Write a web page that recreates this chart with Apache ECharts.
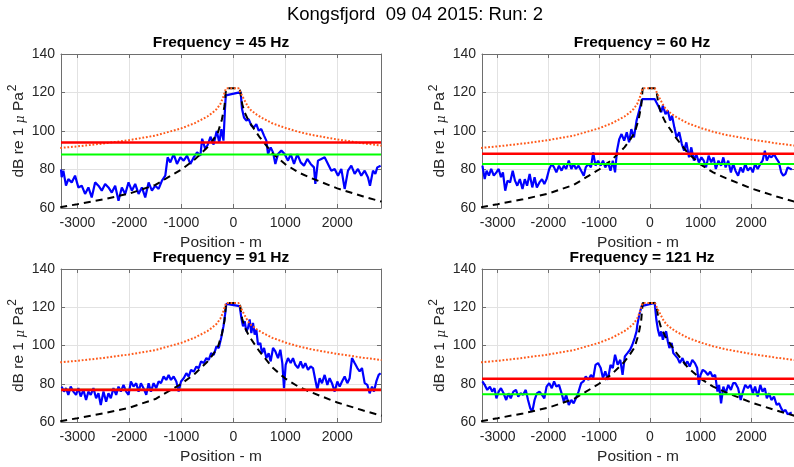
<!DOCTYPE html>
<html>
<head>
<meta charset="utf-8">
<script src="https://cdn.jsdelivr.net/npm/echarts@6/dist/echarts.min.js"></script>
<style>
  html, body { margin: 0; padding: 0; background: #fff; }
  #chart { width: 794px; height: 467px; }
</style>
</head>
<body>
<div id="chart"></div>
<script>
// frequencies of the four panels
const freqs = [45, 60, 91, 121];
const xRanges = [[-3315, 2840], [-3310, 2845], [-3315, 2840], [-3310, 2845]];
const yTicks = [60, 140, 20];

// horizontal reference levels (dB)
const redLevels = [94, 88.2, 76.8, 82.6];
const greenLevels = [87.8, 82.9, 76.8, 74.5];

// model curves (same for every panel)
const orangeModel = [[-3330,91.2],[-3000,92],[-2500,93.5],[-2000,95.3],[-1500,97.6],[-1000,101.4],[-750,104],[-500,107.5],[-400,109.5],[-320,111.4],[-250,114],[-200,117.2],[-165,120.3],[-140,122.2],[100,122.2],[130,121.4],[167,118.4],[218,115.8],[282,112.6],[346,110.6],[450,108.5],[538,107],[750,104],[1000,101.6],[1250,99.6],[1500,98],[2000,95.6],[2500,93.6],[2850,92.4]];
const blackModel = [[-3330,60.4],[-3000,62],[-2500,64.5],[-2000,67.5],[-1500,72],[-1250,76],[-1000,80],[-750,85],[-500,91.5],[-400,95],[-300,99],[-220,106],[-170,113],[-140,122.2],[100,122.2],[130,121],[170,114],[220,109.5],[300,105],[400,101],[500,97],[750,88.5],[1000,82.7],[1250,78.5],[1500,75.5],[2000,70.2],[2500,66],[2850,63.3]];

// measured levels along the track
const blue45 = [[-3315,80],[-3302,76],[-3270,79.4],[-3219,71.6],[-3174,75],[-3109,73.3],[-3045,76.8],[-2981,70.7],[-2916,71.6],[-2852,67.3],[-2788,70.7],[-2724,65.5],[-2659,73.3],[-2595,71.6],[-2531,69],[-2466,72.5],[-2402,70.7],[-2338,68],[-2273,71.6],[-2209,63.8],[-2145,70.7],[-2080,67.3],[-2016,73.3],[-1952,69],[-1888,72.5],[-1823,67.3],[-1759,70.7],[-1695,65.5],[-1630,73.3],[-1566,69],[-1502,71.6],[-1437,69.9],[-1373,74.2],[-1309,76.8],[-1264,86.3],[-1212,83.7],[-1148,88],[-1084,82.9],[-1020,86.3],[-955,84.6],[-891,87.2],[-827,82.9],[-762,86.3],[-698,88.9],[-634,87.2],[-600,96],[-540,90.6],[-490,93],[-440,97],[-380,93],[-320,100],[-270,94],[-230,101],[-190,95],[-160,112],[-145,118.5],[141,120.2],[167,111.4],[205,107],[250,105.4],[295,106.2],[346,102.8],[397,101.9],[442,103.6],[487,100.2],[538,101],[590,97.6],[635,95],[667,88],[718,91.5],[763,88.9],[808,82.9],[859,88],[923,89.8],[987,88],[1051,84.6],[1103,88],[1167,82.9],[1231,88],[1295,83.7],[1359,82],[1423,85.5],[1487,82.9],[1551,81.1],[1577,72.5],[1628,84.6],[1692,85.5],[1756,86.3],[1820,82.9],[1885,79.4],[1949,80.3],[2013,76.8],[2077,80.3],[2141,69.9],[2205,79.4],[2269,82],[2333,77.7],[2397,80.3],[2461,76.8],[2526,79.4],[2590,75.9],[2628,71.6],[2686,79.4],[2731,77.7],[2769,81.1],[2833,82]];
const blue60 = [[-3302,82],[-3257,75],[-3219,79.4],[-3174,76.8],[-3129,80.3],[-3077,76.8],[-3026,78.5],[-2981,80.3],[-2936,76],[-2897,78.5],[-2852,69],[-2807,74.2],[-2756,73.3],[-2704,79.4],[-2659,74.2],[-2614,71.6],[-2563,75],[-2511,69.9],[-2466,75],[-2421,71.6],[-2370,77.7],[-2318,70.7],[-2273,76],[-2228,70.7],[-2177,73.3],[-2126,75],[-2080,72.5],[-2036,75],[-1984,80.3],[-1933,82.9],[-1888,81.1],[-1843,78.5],[-1791,82],[-1740,79.4],[-1695,82],[-1650,80.3],[-1598,84.6],[-1547,80.3],[-1502,82.9],[-1457,80.3],[-1405,82],[-1354,79.4],[-1302,76.8],[-1264,81.1],[-1212,82.9],[-1161,81.1],[-1116,88.9],[-1071,82],[-1020,84.6],[-968,82],[-923,84.6],[-878,81.1],[-827,83.7],[-775,79.4],[-730,84.6],[-685,78.5],[-647,89.8],[-602,95.8],[-557,98.4],[-505,95],[-454,99.3],[-409,94.1],[-364,101],[-312,96.7],[-261,105.4],[-205,111],[-148,116.6],[97,116.6],[129,114.9],[181,112.3],[226,109.7],[258,113.2],[310,108.8],[355,110.6],[400,105.4],[439,108],[484,101.9],[529,96.7],[581,99.3],[632,93.2],[677,89.8],[722,94.1],[774,86.3],[819,91.5],[871,84.6],[916,88],[968,83.7],[1019,86.3],[1064,84.6],[1109,81.1],[1161,87.2],[1213,83.7],[1258,86.3],[1303,80.3],[1355,84.6],[1406,82],[1451,86.3],[1496,81.1],[1548,84.6],[1600,78.5],[1645,82.9],[1690,79.4],[1742,76.8],[1793,81.1],[1838,78.5],[1883,82.9],[1935,79.4],[1987,81.1],[2032,78.5],[2077,82.9],[2129,80.3],[2180,82.9],[2225,84.6],[2270,89.8],[2309,84.6],[2354,87.2],[2399,86.3],[2451,88],[2503,85.5],[2548,83.7],[2593,78.5],[2632,76.8],[2677,77.7],[2720,81.1],[2800,80]];
const blue91 = [[-3302,78.5],[-3257,75.9],[-3219,77.7],[-3174,74.2],[-3129,78.5],[-3077,75.9],[-3026,74.2],[-2981,77.7],[-2936,73.3],[-2884,76.8],[-2833,71.5],[-2788,75.9],[-2743,74.2],[-2691,77.7],[-2640,72.4],[-2595,75],[-2550,68.9],[-2498,75.9],[-2447,70.6],[-2402,75],[-2357,72.4],[-2306,77.7],[-2254,74.2],[-2209,78.5],[-2164,75.9],[-2113,79.4],[-2061,75.9],[-2016,74.2],[-1971,81.2],[-1920,78.5],[-1868,80.3],[-1823,75.9],[-1778,80.3],[-1727,77.7],[-1675,74.2],[-1630,80.3],[-1585,75.9],[-1534,80.3],[-1483,77.7],[-1437,81.2],[-1392,80.3],[-1341,83.8],[-1290,82],[-1245,84.6],[-1200,82],[-1148,83.8],[-1097,81.2],[-1052,75.9],[-1007,81.2],[-955,82.9],[-904,85.5],[-859,83.8],[-814,87.3],[-762,86.3],[-711,89],[-666,88.1],[-621,91.7],[-569,90.8],[-518,93.4],[-473,92.5],[-428,96],[-377,95.1],[-325,99.5],[-280,98.7],[-235,103.9],[-190,110],[-160,116],[-135,121.8],[122,120.6],[154,114.4],[186,110],[218,112.7],[250,107.4],[282,109.2],[314,113.6],[346,106.5],[378,111.8],[410,105.7],[442,108.3],[474,100.4],[519,101.3],[551,96],[590,98.7],[635,93.4],[679,96],[718,91.7],[763,98.7],[808,96.9],[859,93.4],[904,97.8],[942,90.8],[974,77.7],[1006,89.9],[1051,93.4],[1103,90.8],[1147,93.4],[1192,89.9],[1244,88.2],[1295,91.7],[1340,88.2],[1385,90.8],[1436,87.3],[1487,89],[1532,88.2],[1577,82],[1615,76.8],[1660,82.9],[1705,80.3],[1756,84.6],[1808,79.4],[1852,82.9],[1897,80.3],[1949,75.9],[2000,81.2],[2045,78.5],[2090,81.2],[2141,83.8],[2192,80.3],[2237,82.9],[2282,93.4],[2333,90.8],[2385,88.2],[2429,86.5],[2474,88.2],[2526,80.3],[2577,79.4],[2622,75],[2667,78.5],[2705,75.9],[2750,81.2],[2795,84.6],[2833,85.5]];
const blue121 = [[-3302,81.2],[-3257,79.4],[-3206,76.8],[-3154,78.5],[-3109,75.9],[-3064,77.7],[-3026,72.4],[-2981,75.9],[-2936,77.7],[-2884,75],[-2833,71.5],[-2788,75],[-2743,72.4],[-2691,75.9],[-2640,76.8],[-2595,73.3],[-2550,75],[-2498,74.2],[-2447,76.8],[-2402,71.5],[-2357,67.1],[-2318,65.4],[-2273,71.5],[-2228,75],[-2177,75.9],[-2126,74.2],[-2080,72.4],[-2036,78.5],[-1984,80.3],[-1933,77.7],[-1888,81.2],[-1843,78.5],[-1791,79.4],[-1740,75],[-1695,70.6],[-1650,74.2],[-1598,68.9],[-1547,71.5],[-1502,69.8],[-1457,72.4],[-1405,75.9],[-1354,80.3],[-1309,81.2],[-1264,83.8],[-1212,82],[-1161,84.6],[-1116,82.9],[-1071,89.9],[-1020,90.8],[-968,88.2],[-923,82.9],[-878,86.5],[-827,82],[-775,89.9],[-730,88.2],[-685,95.2],[-634,89.9],[-582,92.5],[-537,84.6],[-492,94.3],[-441,96],[-389,97.8],[-344,100.4],[-299,103.9],[-261,107.4],[-245,110.9],[-206,116.2],[-161,120.6],[97,122.3],[129,113.6],[161,108.3],[194,104.8],[226,107.4],[258,103],[290,105.7],[323,107.4],[355,102.2],[387,98.7],[432,101.3],[464,96],[503,96.9],[548,93.4],[593,90.8],[645,93.4],[697,89.9],[742,91.7],[787,89],[839,92.5],[890,90.8],[935,88.2],[968,79.4],[1000,84.6],[1045,87.3],[1097,86.3],[1148,84.6],[1193,86.3],[1238,83.8],[1290,84.6],[1335,75.9],[1367,79.4],[1406,69.8],[1451,78.5],[1496,75],[1548,79.4],[1600,76.8],[1645,80.3],[1690,80.3],[1742,77.7],[1793,71.5],[1838,75.9],[1883,79.4],[1935,77.7],[1987,79.4],[2032,75],[2077,78.5],[2129,73.3],[2180,79.4],[2225,75.9],[2270,77.7],[2309,72.4],[2354,75],[2399,71.5],[2451,73.3],[2503,68.9],[2548,69.8],[2593,67.1],[2632,65.4],[2677,66.3],[2720,64],[2800,65]];
const blueSeries = [blue45, blue60, blue91, blue121];

const FONT = '"Liberation Sans", Arial, Helvetica, sans-serif';
const AXIS_COLOR = '#6e6e6e';
const TEXT_COLOR = '#262626';

const grids = [
  { left: 61, top: 54, width: 320, height: 154 },
  { left: 482, top: 54, width: 320, height: 154 },
  { left: 61, top: 269, width: 320, height: 153 },
  { left: 482, top: 269, width: 320, height: 153 }
];

const chart = echarts.init(document.getElementById('chart'), null, { renderer: 'canvas' });

const xAxes = [], yAxes = [], series = [], graphics = [];
grids.forEach((g, i) => {
  const [xmin, xmax] = xRanges[i];
  const tick = { show: true, inside: true, length: 4, lineStyle: { color: AXIS_COLOR } };
  const line = { show: true, onZero: false, lineStyle: { color: AXIS_COLOR, width: 1 } };
  xAxes.push({
    type: 'value', gridIndex: i, min: xmin, max: xmax, position: 'bottom',
    axisLine: line, axisTick: tick,
    splitLine: { show: true, lineStyle: { color: '#e2e2e2' } },
    axisLabel: {
      color: TEXT_COLOR, fontFamily: FONT, fontSize: 14, margin: 8,
      showMinLabel: false, showMaxLabel: false,
      formatter: v => (v % 1000 === 0 ? String(v) : '')
    },
    name: 'Position - m', nameLocation: 'middle', nameGap: 27,
    nameTextStyle: { color: TEXT_COLOR, fontFamily: FONT, fontSize: 15.5 }
  });
  xAxes.push({
    type: 'value', gridIndex: i, min: xmin, max: xmax, position: 'top',
    axisLine: line, axisTick: tick, axisLabel: { show: false }, splitLine: { show: false }
  });
  yAxes.push({
    type: 'value', gridIndex: i, min: yTicks[0], max: yTicks[1], interval: yTicks[2], position: 'left',
    axisLine: line, axisTick: tick,
    splitLine: { show: true, lineStyle: { color: '#e2e2e2' } },
    axisLabel: { color: TEXT_COLOR, fontFamily: FONT, fontSize: 14, margin: 6 },
    name: '{a|dB re 1 }{mu|\u03bc}{a| Pa}{sup|2}', nameLocation: 'middle', nameGap: 34,
    nameTextStyle: {
      color: TEXT_COLOR, fontFamily: FONT, fontSize: 15.5,
      rich: {
        a: { fontFamily: FONT, fontSize: 15.5, color: TEXT_COLOR, verticalAlign: 'bottom' },
        mu: { fontFamily: 'DejaVu Serif', fontStyle: 'italic', fontSize: 12, color: TEXT_COLOR, verticalAlign: 'bottom' },
        sup: { fontFamily: FONT, fontSize: 12, color: TEXT_COLOR, verticalAlign: 'bottom', padding: [0, 0, 8, 1] }
      }
    }
  });
  yAxes.push({
    type: 'value', gridIndex: i, min: yTicks[0], max: yTicks[1], interval: yTicks[2], position: 'right',
    axisLine: line, axisTick: tick, axisLabel: { show: false }, splitLine: { show: false }
  });

  const xi = 2 * i, yi = 2 * i;
  const base = { type: 'line', xAxisIndex: xi, yAxisIndex: yi, showSymbol: false, symbol: 'none', animation: false, clip: true };
  series.push(Object.assign({}, base, {
    name: 'measured', data: blueSeries[i], lineStyle: { color: '#0000ff', width: 2.2 }, z: 2
  }));
  series.push(Object.assign({}, base, {
    name: 'model', data: blackModel, lineStyle: { color: '#000000', width: 2, type: [7, 5] }, z: 3
  }));
  series.push(Object.assign({}, base, {
    name: 'spreading', data: orangeModel, lineStyle: { color: '#ff5a1a', width: 2, type: [1.8, 1.8] }, z: 4
  }));
  series.push(Object.assign({}, base, {
    name: 'green', data: [[xmin, greenLevels[i]], [xmax, greenLevels[i]]], lineStyle: { color: '#00ff00', width: 2 }, z: 5
  }));
  series.push(Object.assign({}, base, {
    name: 'red', data: [[xmin, redLevels[i]], [xmax, redLevels[i]]], lineStyle: { color: '#ff0000', width: 2.6 }, z: 6
  }));

  graphics.push({
    type: 'text', x: g.left + g.width / 2, y: g.top - 11,
    style: {
      text: 'Frequency = ' + freqs[i] + ' Hz', font: 'bold 15.5px ' + FONT, fill: '#000',
      align: 'center', verticalAlign: 'middle', textAlign: 'center', textVerticalAlign: 'middle'
    }
  });
});

graphics.push({
  type: 'text', x: 415, y: 15,
  style: {
    text: 'Kongsfjord  09 04 2015: Run: 2', font: '18.5px ' + FONT, fill: '#000',
    align: 'center', verticalAlign: 'middle', textAlign: 'center', textVerticalAlign: 'middle'
  }
});

chart.setOption({
  animation: false,
  backgroundColor: '#ffffff',
  grid: grids.map(g => Object.assign({ containLabel: false }, g)),
  xAxis: xAxes,
  yAxis: yAxes,
  series: series,
  graphic: graphics
});

window.addEventListener('resize', () => chart.resize());
</script>
</body>
</html>
